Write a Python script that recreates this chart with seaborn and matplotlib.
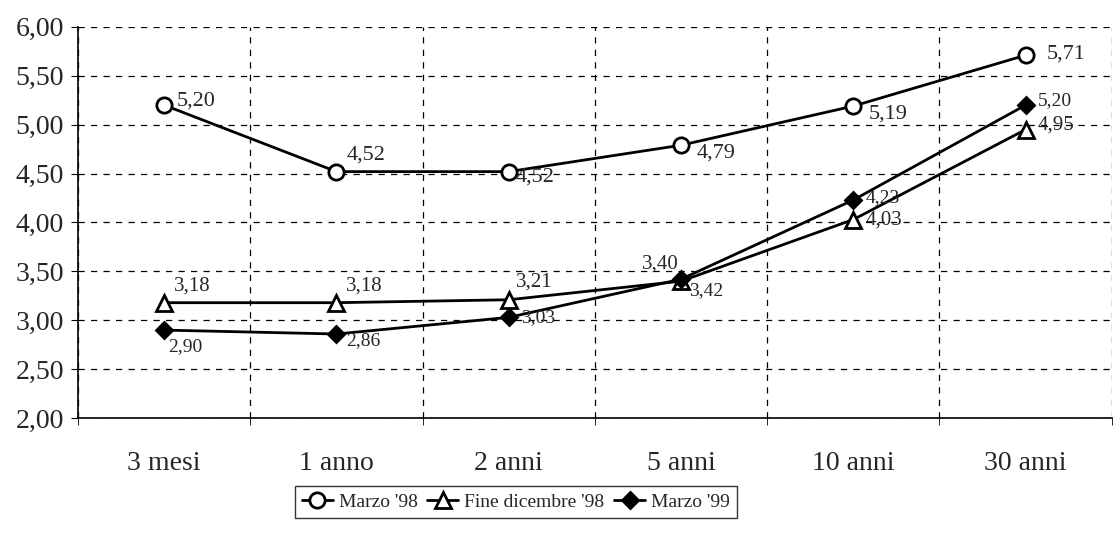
import seaborn as sns
import matplotlib.pyplot as plt
import pandas as pd
from matplotlib.ticker import FuncFormatter, FixedLocator

# Data
scadenze = ["3 mesi", "1 anno", "2 anni", "5 anni", "10 anni", "30 anni"]
marzo_98 = [5.20, 4.52, 4.52, 4.79, 5.19, 5.71]
dicembre_98 = [3.18, 3.18, 3.21, 3.40, 4.03, 4.95]
marzo_99 = [2.90, 2.86, 3.03, 3.42, 4.23, 5.20]

series = [
    ("Marzo '98", marzo_98),
    ("Fine dicembre '98", dicembre_98),
    ("Marzo '99", marzo_99),
]

# label offsets (points) for each value label
offsets = {
    "Marzo '98": [(9, 3), (7, 12), (5, -4), (11, -6), (11, -6), (15, 1)],
    "Fine dicembre '98": [(7, 12), (7, 12), (5, 13), (-2, 12), (9, 0), (9, 3)],
    "Marzo '99": [(3, -12), (7, -5), (9, 0), (6, -8), (9, 2), (9, 3)],
}
label_size = {"Marzo '98": 16, "Fine dicembre '98": 15, "Marzo '99": 14}
has = {"Fine dicembre '98": {3: "right"}}

styles = {
    "Marzo '98": dict(marker="o", markerfacecolor="white", markersize=11),
    "Fine dicembre '98": dict(marker="^", markerfacecolor="white", markersize=11),
    "Marzo '99": dict(marker="D", markerfacecolor="black", markersize=8.5),
}

sns.set_style("white")
plt.rcParams["font.family"] = ["Liberation Serif", "DejaVu Serif"]

fig = plt.figure(figsize=(11.14, 5.48), dpi=100)
ax = fig.add_axes([0.070, 0.237, 0.928, 0.714])

for name, vals in series:
    df = pd.DataFrame({"scadenza": scadenze, "rendimento": vals})
    sns.lineplot(data=df, x="scadenza", y="rendimento", ax=ax, color="black",
                 linewidth=2.0, markeredgecolor="black", markeredgewidth=2.0,
                 label=name, **styles[name])
    for i, v in enumerate(vals):
        ha = has.get(name, {}).get(i, "left")
        ax.annotate(f"{v:.2f}".replace(".", ","), (i, v),
                    xytext=offsets[name][i], textcoords="offset points",
                    ha=ha, va="center", fontsize=label_size[name])

ax.set_xlim(-0.5, 5.5)
ax.set_ylim(2.0, 6.0)
ax.set_yticks([2.0 + 0.5 * k for k in range(9)])
ax.yaxis.set_major_formatter(FuncFormatter(lambda v, p: f"{v:.2f}".replace(".", ",")))
ax.xaxis.set_minor_locator(FixedLocator([k + 0.5 for k in range(-1, 6)]))
ax.set_xlabel("")
ax.set_ylabel("")

ax.grid(True, which="major", axis="y", color="black", linestyle=(0, (5, 5)), linewidth=0.9)
ax.grid(True, which="minor", axis="x", color="black", linestyle=(0, (5, 5)), linewidth=0.9)
ax.grid(False, which="major", axis="x")

for s in ["top", "right"]:
    ax.spines[s].set_visible(False)
for s in ["left", "bottom"]:
    ax.spines[s].set_color("black")
    ax.spines[s].set_linewidth(1.2)

ax.tick_params(axis="y", which="major", left=True, length=5, direction="out",
               labelsize=20, pad=5, color="black")
ax.tick_params(axis="x", which="major", bottom=False, labelsize=20, pad=20)
ax.tick_params(axis="x", which="minor", bottom=True, length=5, direction="out", color="black")

leg = ax.legend(loc="center", bbox_to_anchor=(0.463, 0.084),
                bbox_transform=fig.transFigure, ncol=3, frameon=True,
                fontsize=14, handlelength=1.6, columnspacing=0.5,
                handletextpad=0.3, borderpad=0.35, fancybox=False)
leg.get_frame().set_edgecolor("black")
leg.get_frame().set_linewidth(1.0)

plt.savefig("out.png", dpi=100)
